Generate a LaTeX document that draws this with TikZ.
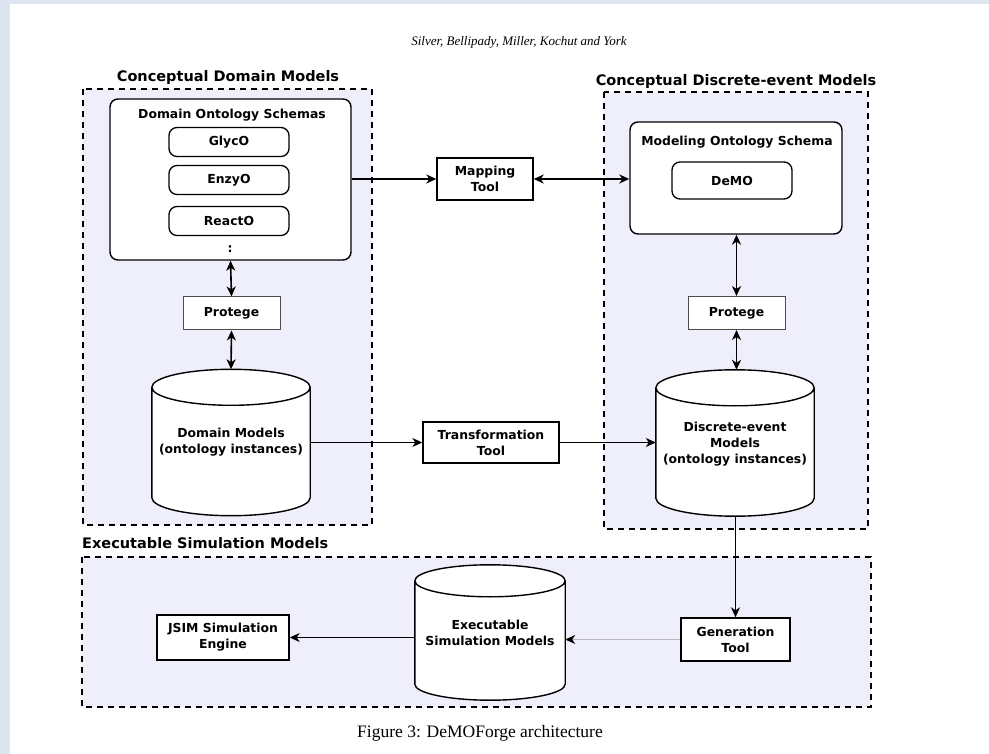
\documentclass[tikz,border=0pt]{standalone}
\usepackage{fontspec}
\setmainfont{Liberation Serif}
\newfontfamily\diafont{DejaVu Sans}
\usetikzlibrary{shapes,arrows.meta,positioning,calc,backgrounds}

\definecolor{RegionFill}{RGB}{239,239,251}
\definecolor{PageBlue}{RGB}{221,229,240}

% cylinder body behind a named node: node name, cap radius
\newcommand{\dbbody}[2]{%
  \path[draw, line width=1.4pt, fill=white]
    let \p1=(#1.north west), \p2=(#1.south east), \n1={(\x2-\x1)/2} in
    (\x1,\y1-#2) -- (\x1,\y2+#2) arc[start angle=180, end angle=360, x radius=\n1, y radius=#2]
    -- (\x2,\y1-#2) arc[start angle=0, end angle=180, x radius=\n1, y radius=#2] -- cycle
    (\x1,\y1-#2) arc[start angle=180, end angle=360, x radius=\n1, y radius=#2];
}

\begin{document}
\begin{tikzpicture}[
    x=1pt, y=-1pt,
    every node/.style={font=\diafont\bfseries\fontsize{12.4}{16}\selectfont, inner sep=0pt, align=center},
    region/.style={draw, line width=1.6pt, dash pattern=on 6pt off 5pt, fill=RegionFill},
    regionlabel/.style={font=\diafont\bfseries\fontsize{14.5}{16}\selectfont},
    schema/.style={rectangle, rounded corners=8pt, draw, line width=1.4pt, fill=white},
    onto/.style={rectangle, rounded corners=8pt, draw, line width=1.3pt, fill=white, minimum width=120pt, minimum height=29pt},
    tool/.style={rectangle, draw, line width=1.4pt, fill=white},
    editor/.style={rectangle, draw=black!70, line width=1pt, fill=white, minimum width=97pt, minimum height=33pt},
    dbase/.style={minimum width=158pt, minimum height=146pt},
    arrow/.style={-{Stealth[length=10pt,width=9pt,inset=3pt]}, line width=1.4pt},
    biarrow/.style={{Stealth[length=10pt,width=9pt,inset=3pt]}-{Stealth[length=10pt,width=9pt,inset=3pt]}, line width=1.6pt}
  ]
  \useasboundingbox (0,0) rectangle (989,754);

  % page and the three dashed regions
  \begin{scope}[on background layer]
    \fill[PageBlue] (0,0) rectangle (989,754);
    \fill[white] (10,4) rectangle (989,754);
    \draw[region] (83,89) rectangle (372,525);
    \draw[region] (604,92) rectangle (868,529);
    \draw[region] (82,557) rectangle (871,707);
  \end{scope}

  \node[font=\itshape\fontsize{13}{16}\selectfont] (header) at (519,42) {Silver, Bellipady, Miller, Kochut and York};
  \node[regionlabel] (cdmlabel) at (228,78) {Conceptual Domain Models};
  \node[regionlabel] (cdemlabel) at (736,82) {Conceptual Discrete-event Models};
  \node[regionlabel, anchor=west] (esmlabel) at (82,543) {Executable Simulation Models};

  % conceptual domain models
  \node[schema, minimum width=241pt, minimum height=161pt] (dos) at (230.5,179.5) {};
  \node (dostitle) at (232,115) {Domain Ontology Schemas};
  \node[onto] (glyco) at (229,142) {GlycO};
  \node[onto] (enzyo) at (229,180) {EnzyO};
  \node[onto] (reacto) at (229,221) {ReactO};
  \node (dots) at (230,249) {:};
  \node[editor] (protl) at (231.5,313.5) {Protege};
  \node[dbase] (dm) at (231,442.5) {Domain Models\\(ontology instances)};

  % tools between the regions
  \node[tool, minimum width=96pt, minimum height=42pt] (mapping) at (485,179) {Mapping\\Tool};
  \node[tool, minimum width=136pt, minimum height=41pt] (transf) at (491,442.5) {Transformation\\Tool};

  % conceptual discrete-event models
  \node[schema, minimum width=212pt, minimum height=112pt] (mos) at (736,178) {};
  \node (mostitle) at (737,142) {Modeling Ontology Schema};
  \node[onto, minimum height=37pt] (demo) at (732,180.5) {DeMO};
  \node[editor] (protr) at (736.5,313) {Protege};
  \node[dbase, text depth=-14pt] (dem) at (735,443) {Discrete-event\\Models\\(ontology instances)};

  % executable simulation models
  \node[tool, minimum width=109pt, minimum height=43pt] (gen) at (735.5,639.5) {Generation\\Tool};
  \node[dbase, minimum width=150pt, minimum height=135pt] (esm) at (490,632.5) {Executable\\Simulation Models};
  \node[tool, minimum width=132pt, minimum height=45pt] (jsim) at (223,637.5) {JSIM Simulation\\Engine};

  \begin{scope}[on background layer]
    \dbbody{dm}{18pt}
    \dbbody{dem}{18pt}
    \dbbody{esm}{16pt}
  \end{scope}

  \node[font=\fontsize{17.5}{20}\selectfont] (caption) at (480,733) {Figure 3: DeMOForge architecture};

  \draw[biarrow] (dos.south) -- (protl.north);
  \draw[biarrow] (protl.south) -- (dm.north);
  \draw[arrow] (mapping.west -| dos.east) -- (mapping.west);
  \draw[biarrow] (mapping.east) -- (mapping.east -| mos.west);
  \draw[biarrow] (mos.south -| protr.north) -- (protr.north);
  \draw[biarrow] (protr.south) -- (dem.north -| protr.south);
  \draw[arrow, line width=1.2pt] (transf.west -| dm.east) -- (transf.west);
  \draw[arrow, line width=1.2pt] (transf.east) -- (transf.east -| dem.west);
  \draw[arrow] (dem.south -| gen.north) -- (gen.north);
  \draw[-{Stealth[length=10pt,width=9pt,inset=3pt,black]}, line width=1.2pt, gray!55] (gen.west) -- (gen.west -| esm.east);
  \draw[arrow, line width=1.1pt] (esm.west |- jsim.east) -- (jsim.east);
\end{tikzpicture}
\end{document}
